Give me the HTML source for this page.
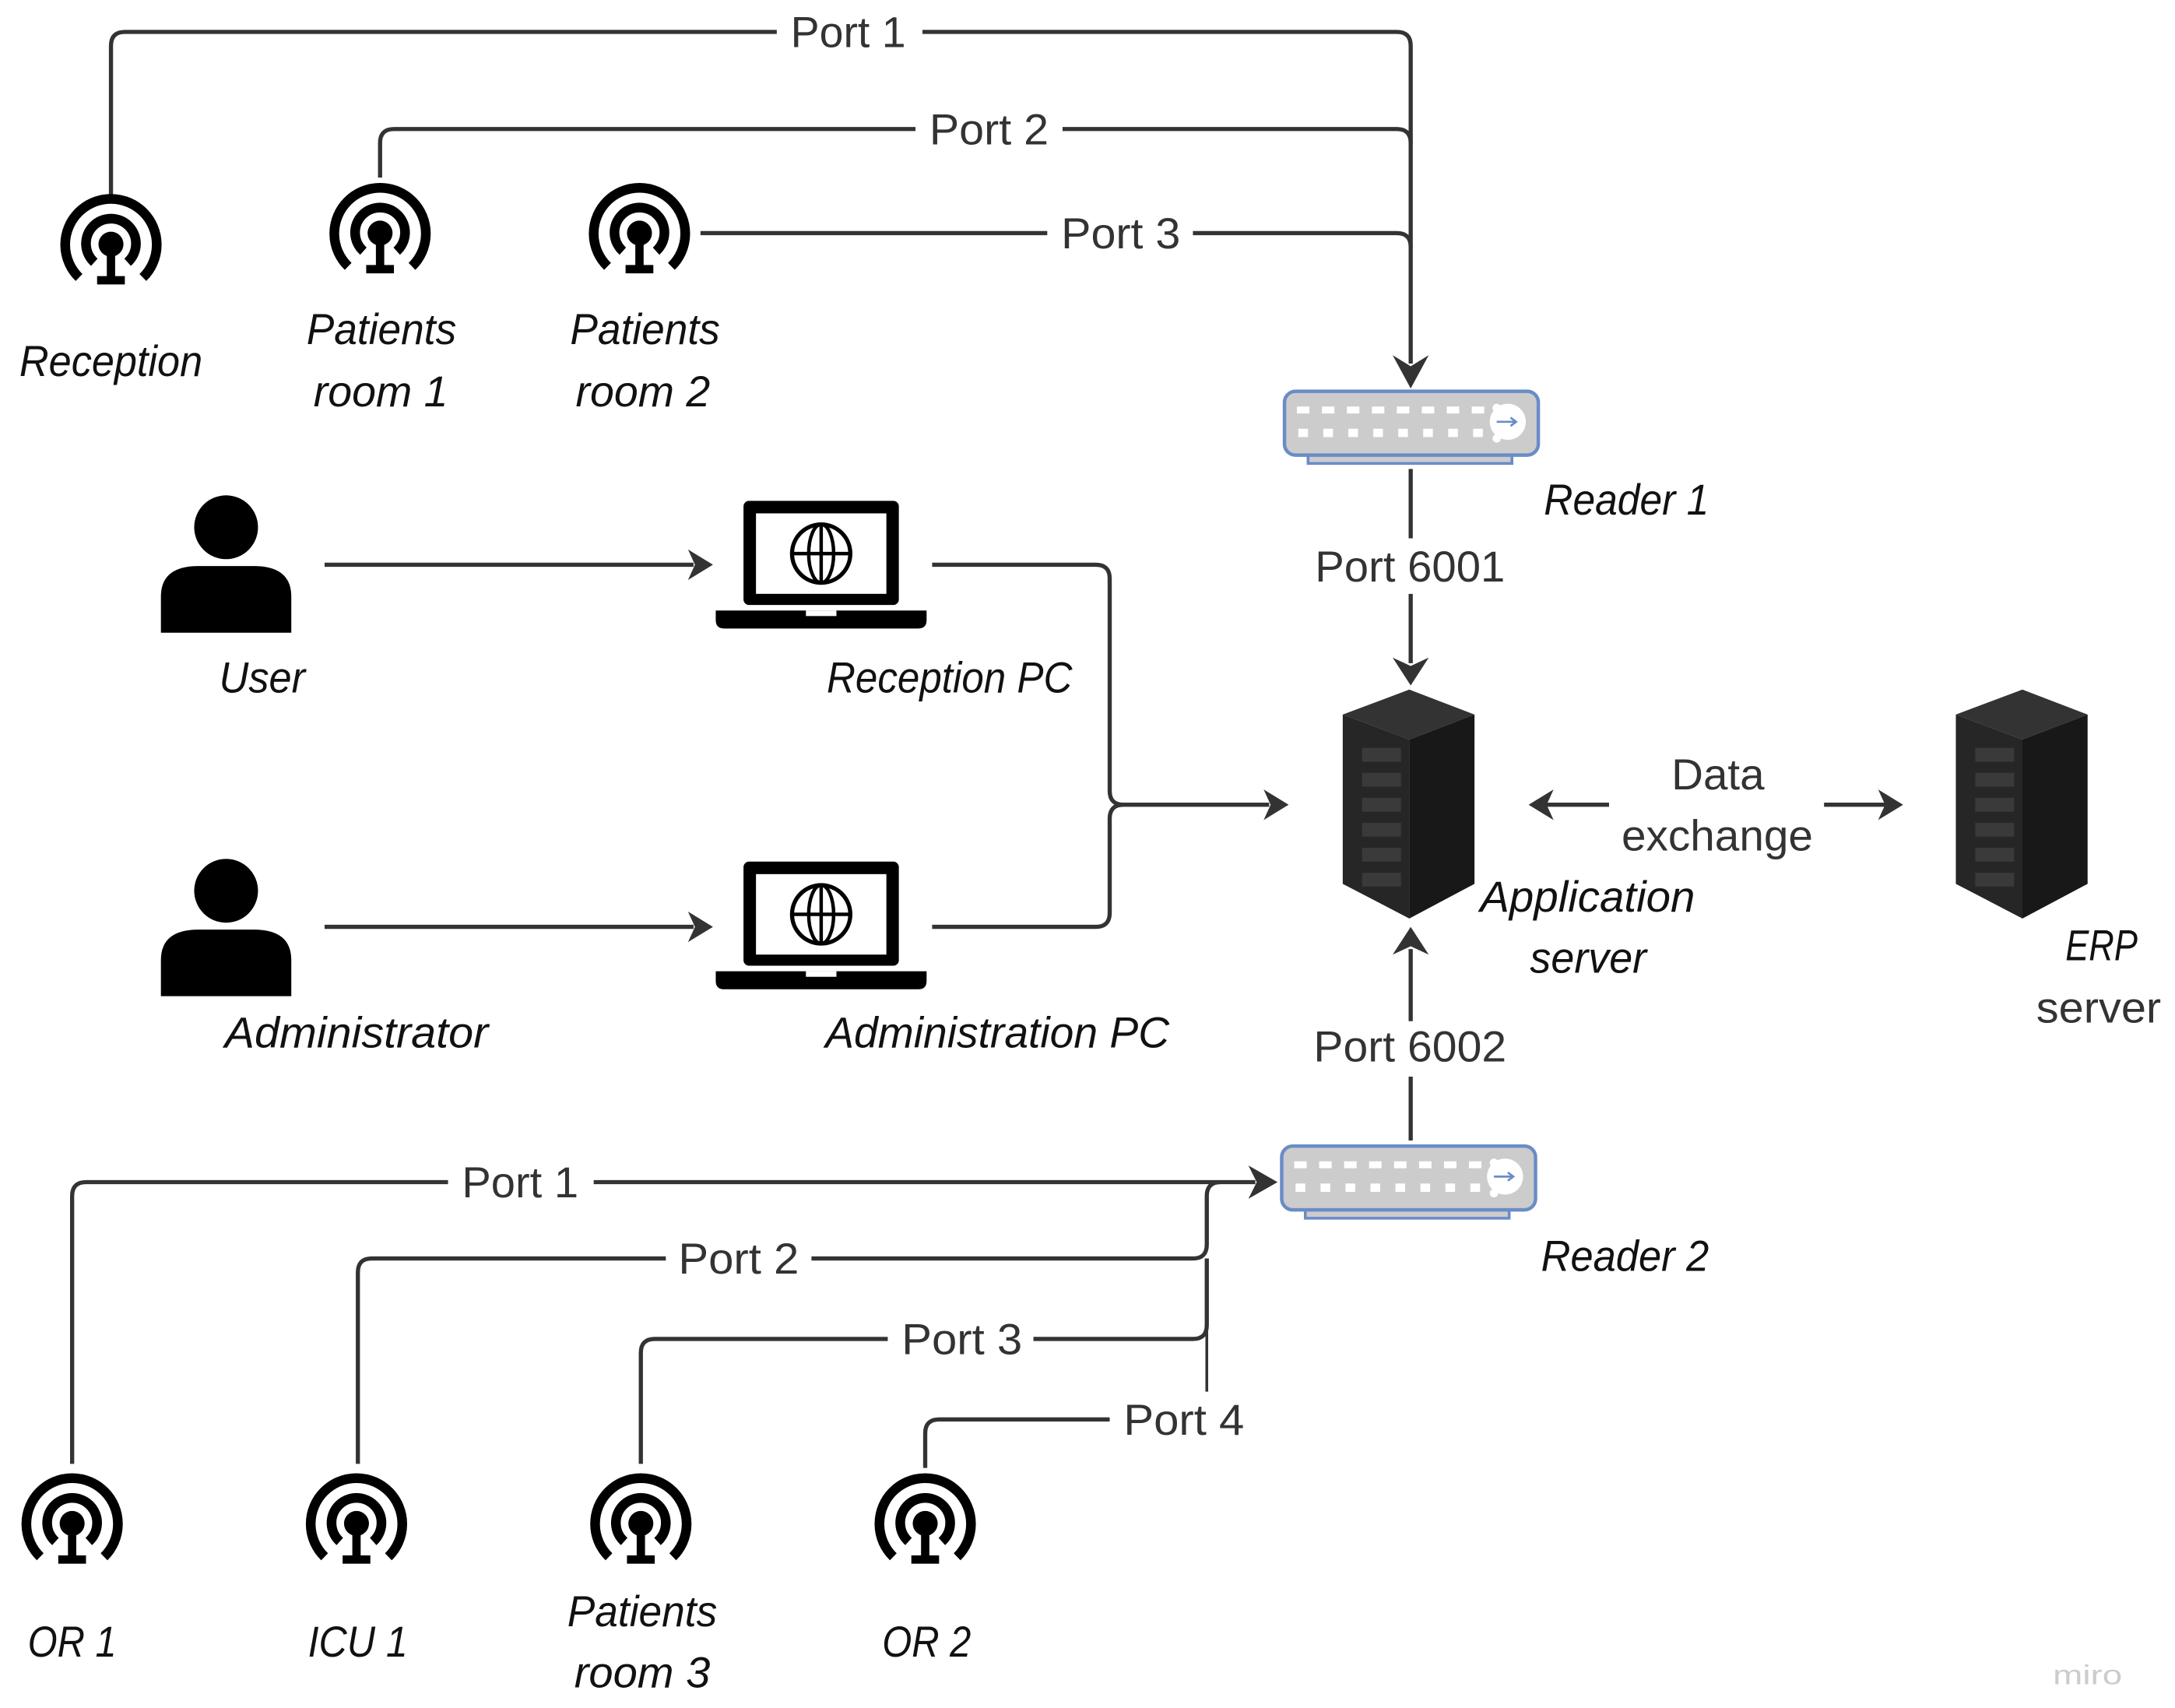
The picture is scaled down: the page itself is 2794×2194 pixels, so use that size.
<!DOCTYPE html>
<html><head><meta charset="utf-8"><style>
html,body{margin:0;padding:0;background:#fff;}
svg{display:block;}
text{font-family:"Liberation Sans",sans-serif;}
.i{font-style:italic;fill:#111;font-size:31px;}
.p{fill:#333;font-size:31px;}
.ln{fill:none;stroke:#333;stroke-width:3;}
</style></head><body>
<svg width="2794" height="2194" viewBox="0 0 1568 1231" preserveAspectRatio="none" xmlns="http://www.w3.org/2000/svg">
<defs>
<g id="ant">
 <path d="M-23,24 A33,33 0 1 1 23,24" fill="none" stroke="#000" stroke-width="7"/>
 <path d="M-12,13 A18,18 0 1 1 12,13" fill="none" stroke="#000" stroke-width="7"/>
 <circle cx="0" cy="0" r="9" fill="#000"/>
 <rect x="-3" y="5" width="6" height="20" fill="#000"/>
 <rect x="-10" y="23" width="20" height="6" fill="#000"/>
</g>
<g id="rdr">
 <rect x="18" y="44" width="147" height="9" fill="#ccc" stroke="#6a8cc7" stroke-width="2"/>
 <rect x="1" y="1" width="183" height="46" rx="8" fill="#ccc" stroke="#6a8cc7" stroke-width="2.5"/>
 <g fill="#fff">
  <rect x="10" y="12" width="9" height="5"/><rect x="28" y="12" width="9" height="5"/><rect x="46" y="12" width="9" height="5"/><rect x="64" y="12" width="9" height="5"/><rect x="82" y="12" width="9" height="5"/><rect x="100" y="12" width="9" height="5"/><rect x="118" y="12" width="9" height="5"/><rect x="136" y="12" width="9" height="5"/>
  <rect x="11" y="28" width="7" height="6"/><rect x="29" y="28" width="7" height="6"/><rect x="47" y="28" width="7" height="6"/><rect x="65" y="28" width="7" height="6"/><rect x="83" y="28" width="7" height="6"/><rect x="101" y="28" width="7" height="6"/><rect x="119" y="28" width="7" height="6"/><rect x="137" y="28" width="7" height="6"/>
  <circle cx="154" cy="13" r="3"/><circle cx="154" cy="24" r="3"/><circle cx="154" cy="35" r="3"/>
  <circle cx="162" cy="23" r="13"/>
 </g>
 <path d="M154,23 H168 M164,20 L168,23 L164,26" stroke="#6a8cc7" stroke-width="1.5" fill="none"/>
</g>
<g id="srv">
 <polygon points="0,18 48,0 95,18 48,36" fill="#333"/>
 <polygon points="0,18 48,36 48,165 0,140" fill="#262626"/>
 <polygon points="48,36 95,18 95,140 48,165" fill="#181818"/>
 <g fill="#3a3a3a"><rect x="14" y="42" width="28" height="10"/><rect x="14" y="60" width="28" height="10"/><rect x="14" y="78" width="28" height="10"/><rect x="14" y="96" width="28" height="10"/><rect x="14" y="114" width="28" height="10"/><rect x="14" y="132" width="28" height="10"/></g>
</g>
<g id="usr">
 <circle cx="0" cy="0" r="23" fill="#000"/>
 <path d="M-47,76 V50 Q-47,28 -20,28 H20 Q47,28 47,50 V76 Z" fill="#000"/>
</g>
<g id="lap">
 <rect x="20" y="0" width="112" height="75" rx="4" fill="#000"/>
 <rect x="29" y="9" width="94" height="58" fill="#fff"/>
 <ellipse cx="76" cy="38" rx="21" ry="21" fill="none" stroke="#000" stroke-width="3"/>
 <ellipse cx="76" cy="38" rx="9" ry="21" fill="none" stroke="#000" stroke-width="2.5"/>
 <path d="M55,38 H97 M76,17 V59" stroke="#000" stroke-width="2.5"/>
 <path d="M0,79 H152 V86 Q152,92 146,92 H6 Q0,92 0,86 Z" fill="#000"/>
 <rect x="65" y="79" width="22" height="4" fill="#fff"/>
</g>
</defs>

<!-- top connectors -->
<path class="ln" d="M80,140 V33 Q80,23 90,23 H560 M665,23 H1007 Q1017,23 1017,33 V262"/>
<path class="ln" d="M274,128 V103 Q274,93 284,93 H660 M766,93 H1007 Q1017,93 1017,103"/>
<path class="ln" d="M505,168 H755 M860,168 H1007 Q1017,168 1017,178"/>
<polygon points="1004,256 1017,264 1030,256 1017,280" fill="#333"/>
<text class="p" x="570" y="34" textLength="83" lengthAdjust="spacingAndGlyphs">Port 1</text>
<text class="p" x="670" y="104" textLength="86" lengthAdjust="spacingAndGlyphs">Port 2</text>
<text class="p" x="765" y="179" textLength="86" lengthAdjust="spacingAndGlyphs">Port 3</text>

<use href="#ant" x="80" y="176"/>
<use href="#ant" x="274" y="168"/>
<use href="#ant" x="461" y="168"/>
<text class="i" x="14" y="271" textLength="132" lengthAdjust="spacingAndGlyphs">Reception</text>
<text class="i" x="221" y="248" textLength="108" lengthAdjust="spacingAndGlyphs">Patients</text>
<text class="i" x="226" y="293" textLength="97" lengthAdjust="spacingAndGlyphs">room 1</text>
<text class="i" x="411" y="248" textLength="108" lengthAdjust="spacingAndGlyphs">Patients</text>
<text class="i" x="415" y="293" textLength="97" lengthAdjust="spacingAndGlyphs">room 2</text>

<!-- reader1 -->
<use href="#rdr" x="925" y="281"/>
<text class="i" x="1113" y="371" textLength="119" lengthAdjust="spacingAndGlyphs">Reader 1</text>
<path class="ln" d="M1017,338 V388 M1017,428 V478"/>
<polygon points="1004,474 1017,480 1030,474 1017,494" fill="#333"/>
<text class="p" x="948" y="419" textLength="137" lengthAdjust="spacingAndGlyphs">Port 6001</text>

<!-- users -->
<use href="#usr" x="163" y="380"/>
<use href="#usr" x="163" y="642"/>
<text class="i" x="158" y="499" textLength="62" lengthAdjust="spacingAndGlyphs">User</text>
<text class="i" x="162" y="755" textLength="190" lengthAdjust="spacingAndGlyphs">Administrator</text>
<path class="ln" d="M234,407 H500 M234,668 H500"/>
<polygon points="496,396 514,407 496,418 501,407" fill="#333"/>
<polygon points="496,657 514,668 496,679 501,668" fill="#333"/>
<use href="#lap" x="516" y="361"/>
<use href="#lap" x="516" y="621"/>
<text class="i" x="596" y="499" textLength="177" lengthAdjust="spacingAndGlyphs">Reception PC</text>
<text class="i" x="595" y="755" textLength="248" lengthAdjust="spacingAndGlyphs">Administration PC</text>
<path class="ln" d="M672,407 H790 Q800,407 800,417 V570 Q800,580 810,580 H915 M672,668 H790 Q800,668 800,658 V590 Q800,580 810,580"/>
<polygon points="911,569 929,580 911,591 916,580" fill="#333"/>

<!-- servers -->
<use href="#srv" x="968" y="497"/>
<use href="#srv" x="1410" y="497"/>
<text class="i" x="1067" y="657" textLength="155" lengthAdjust="spacingAndGlyphs">Application</text>
<text class="i" x="1103" y="701" textLength="84" lengthAdjust="spacingAndGlyphs">server</text>
<text class="p" x="1205" y="569" textLength="67" lengthAdjust="spacingAndGlyphs">Data</text>
<text class="p" x="1169" y="613" textLength="138" lengthAdjust="spacingAndGlyphs">exchange</text>
<path class="ln" d="M1160,580 H1112 M1315,580 H1362"/>
<polygon points="1120,569 1102,580 1120,591 1115,580" fill="#333"/>
<polygon points="1354,569 1372,580 1354,591 1359,580" fill="#333"/>
<text class="i" x="1489" y="692" textLength="52" lengthAdjust="spacingAndGlyphs">ERP</text>
<text class="p" x="1468" y="737" textLength="90" lengthAdjust="spacingAndGlyphs">server</text>

<!-- reader2 -->
<path class="ln" d="M1017,822 V776 M1017,736 V684"/>
<polygon points="1004,688 1017,668 1030,688 1017,682" fill="#333"/>
<text class="p" x="947" y="765" textLength="139" lengthAdjust="spacingAndGlyphs">Port 6002</text>
<use href="#rdr" x="923" y="825"/>
<text class="i" x="1111" y="916" textLength="121" lengthAdjust="spacingAndGlyphs">Reader 2</text>

<!-- bottom connectors -->
<path class="ln" d="M52,1055 V862 Q52,852 62,852 H323 M428,852 H905"/>
<polygon points="900,840 921,852 900,864 906,852" fill="#333"/>
<path class="ln" d="M258,1055 V917 Q258,907 268,907 H480 M585,907 H860 Q870,907 870,897 V862 Q870,852 880,852"/>
<path class="ln" d="M462,1055 V975 Q462,965 472,965 H640 M745,965 H860 Q870,965 870,955 V907"/>
<path class="ln" d="M870,955 V1003" style="stroke-width:2"/>
<path class="ln" d="M667,1058 V1033 Q667,1023 677,1023 H800"/>
<text class="p" x="333" y="863" textLength="84" lengthAdjust="spacingAndGlyphs">Port 1</text>
<text class="p" x="489" y="918" textLength="87" lengthAdjust="spacingAndGlyphs">Port 2</text>
<text class="p" x="650" y="976" textLength="87" lengthAdjust="spacingAndGlyphs">Port 3</text>
<text class="p" x="810" y="1034" textLength="87" lengthAdjust="spacingAndGlyphs">Port 4</text>

<use href="#ant" x="52" y="1098"/>
<use href="#ant" x="257" y="1098"/>
<use href="#ant" x="462" y="1098"/>
<use href="#ant" x="667" y="1098"/>
<text class="i" x="20" y="1194" textLength="64" lengthAdjust="spacingAndGlyphs">OR 1</text>
<text class="i" x="222" y="1194" textLength="72" lengthAdjust="spacingAndGlyphs">ICU 1</text>
<text class="i" x="409" y="1172" textLength="108" lengthAdjust="spacingAndGlyphs">Patients</text>
<text class="i" x="414" y="1216" textLength="98" lengthAdjust="spacingAndGlyphs">room 3</text>
<text class="i" x="636" y="1194" textLength="64" lengthAdjust="spacingAndGlyphs">OR 2</text>
<text x="1480" y="1214" style="font-size:20px;fill:#ccc" textLength="50" lengthAdjust="spacingAndGlyphs">miro</text>
</svg>
</body></html>
